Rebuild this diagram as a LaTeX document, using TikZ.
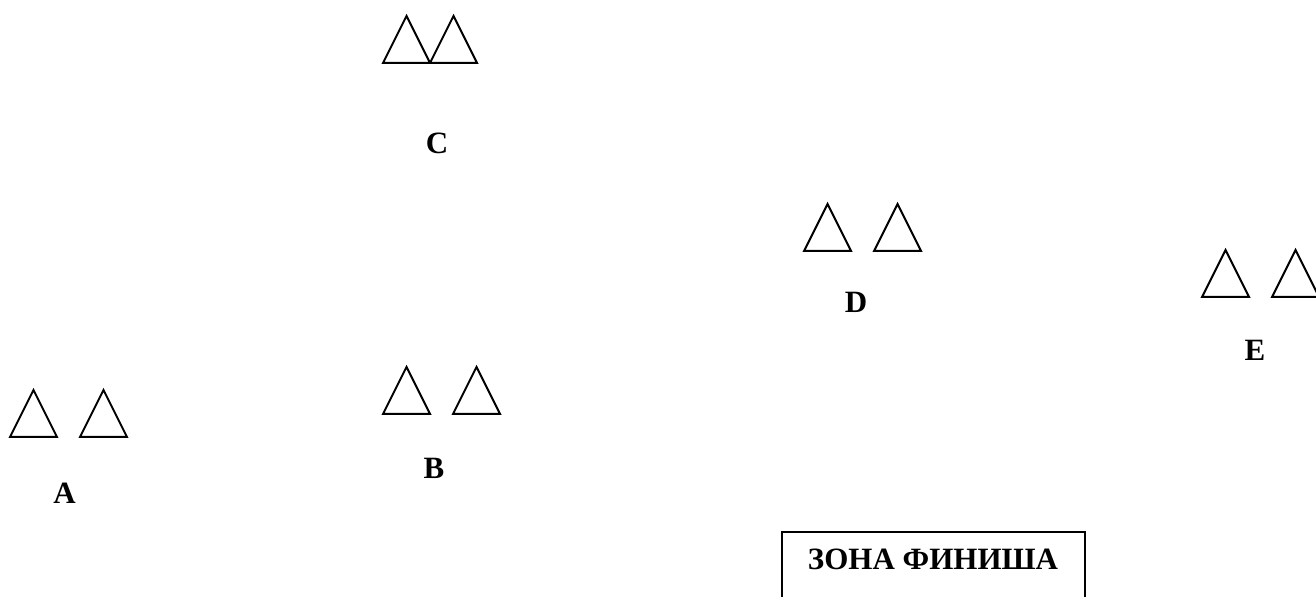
\documentclass[tikz,border=0pt]{standalone}
\usepackage{fontspec}
\setmainfont{Liberation Serif}

\begin{document}
\begin{tikzpicture}
[x=0.5pt,y=-0.5pt,%
  coneDecorate/.style={line width=1pt,line join=miter},%
  labelDecorate/.style={anchor=base,inner sep=0pt,font=\bfseries\fontsize{15.5}{19}\selectfont},%
  zoneDecorate/.style={line width=1pt}]
\clip (0,0) rectangle (1316,597);
%% cones, two per gate
\foreach \conename/\x/\y in {
  A1/10/437, A2/80/437, B1/383/414, B2/453/414, C1/383/63, C2/430/63,
  D1/804/251, D2/874/251, E1/1202/297, E2/1272/297}
{
  \coordinate (\conename) at (\x,\y);
  \draw[coneDecorate] (\conename) -- ++(47,0) -- ++(-23.5,-47) -- cycle;
}
%% gate labels
\foreach \labelname/\x/\y in {
  A/64.5/504, B/434/479, C/437/154, D/856/313, E/1255/361}
{
  \node (L\labelname) at (\x,\y) [labelDecorate] {\labelname};
}
%% finish zone
\draw[zoneDecorate] (782,620) |- (1085,532) -- (1085,620);
\node (finish) at (933,570) [labelDecorate] {ЗОНА ФИНИША};
\end{tikzpicture}
\end{document}
